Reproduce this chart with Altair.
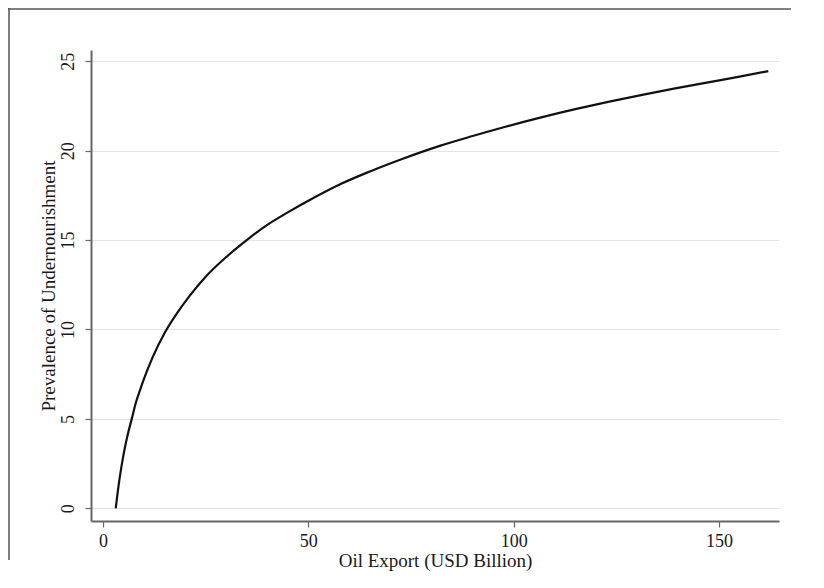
import altair as alt
import pandas as pd

# Values
oil_export = [3.1, 4, 5, 6, 7, 8, 9, 10, 12, 15, 18, 21, 25, 30, 35, 40, 45, 50,
              58, 65, 73, 82, 90, 98, 106, 115, 123, 131, 139, 147, 155, 162]
prevalence = [0.0, 1.6, 3.0, 4.1, 5.0, 5.9, 6.6, 7.25, 8.4, 9.8, 10.9, 11.85, 12.95,
              14.05, 15.0, 15.85, 16.55, 17.2, 18.15, 18.84, 19.55, 20.27, 20.82, 21.34,
              21.82, 22.32, 22.73, 23.11, 23.47, 23.81, 24.14, 24.45]
x_ticks = [0, 50, 100, 150]
y_ticks = [0, 5, 10, 15, 20, 25]

df = pd.DataFrame({"oil": oil_export, "pun": prevalence})
dummy = pd.DataFrame({"k": [0]})

FONT = "Liberation Serif"
AX = "#666666"
TXT = "#1a1a1a"

W, H = 688, 471

line = alt.Chart(df).mark_line(color="#111111", strokeWidth=2.2, interpolate="monotone").encode(
    x=alt.X("oil:Q",
            scale=alt.Scale(domain=[-2.92, 164.6], nice=False, zero=False),
            axis=alt.Axis(values=x_ticks, title="Oil Export (USD Billion)", grid=False,
                          labelPadding=5, labelBaseline="top", titleY=45,
                          titleBaseline="alphabetic")),
    y=alt.Y("pun:Q",
            scale=alt.Scale(domain=[-0.71, 25.63], nice=False, zero=False),
            axis=alt.Axis(values=y_ticks, title="Prevalence of Undernourishment", grid=True,
                          gridColor="#e4e4e4", gridWidth=1.2,
                          labelAngle=-90, labelAlign="center", labelBaseline="alphabetic",
                          labelPadding=12, titleAngle=270, titleX=-37, titleY=H / 2,
                          titleAlign="center", titleBaseline="alphabetic")),
)

top_border = alt.Chart(dummy).mark_rule(color="#555555", strokeWidth=1.5).encode(
    x=alt.value(-83), x2=alt.value(700), y=alt.value(-41), y2=alt.value(-41)
)
left_border = alt.Chart(dummy).mark_rule(color="#555555", strokeWidth=1.5).encode(
    x=alt.value(-82), x2=alt.value(-82), y=alt.value(-42), y2=alt.value(510)
)

chart = alt.layer(line, top_border, left_border).properties(
    width=W, height=H,
    autosize=alt.AutoSizeParams(type="none"),
    padding={"left": 83, "top": 42, "right": 28, "bottom": 52},
    background="white",
).configure_view(stroke="transparent").configure_axis(
    domainColor=AX, domainWidth=2, tickColor=AX, tickSize=6, tickWidth=1.2,
    labelFont=FONT, labelFontSize=18, labelColor=TXT,
    titleFont=FONT, titleFontSize=19, titleFontWeight="normal", titleColor=TXT,
)

chart.save("out.html", embed_options={"renderer": "svg", "actions": False})
